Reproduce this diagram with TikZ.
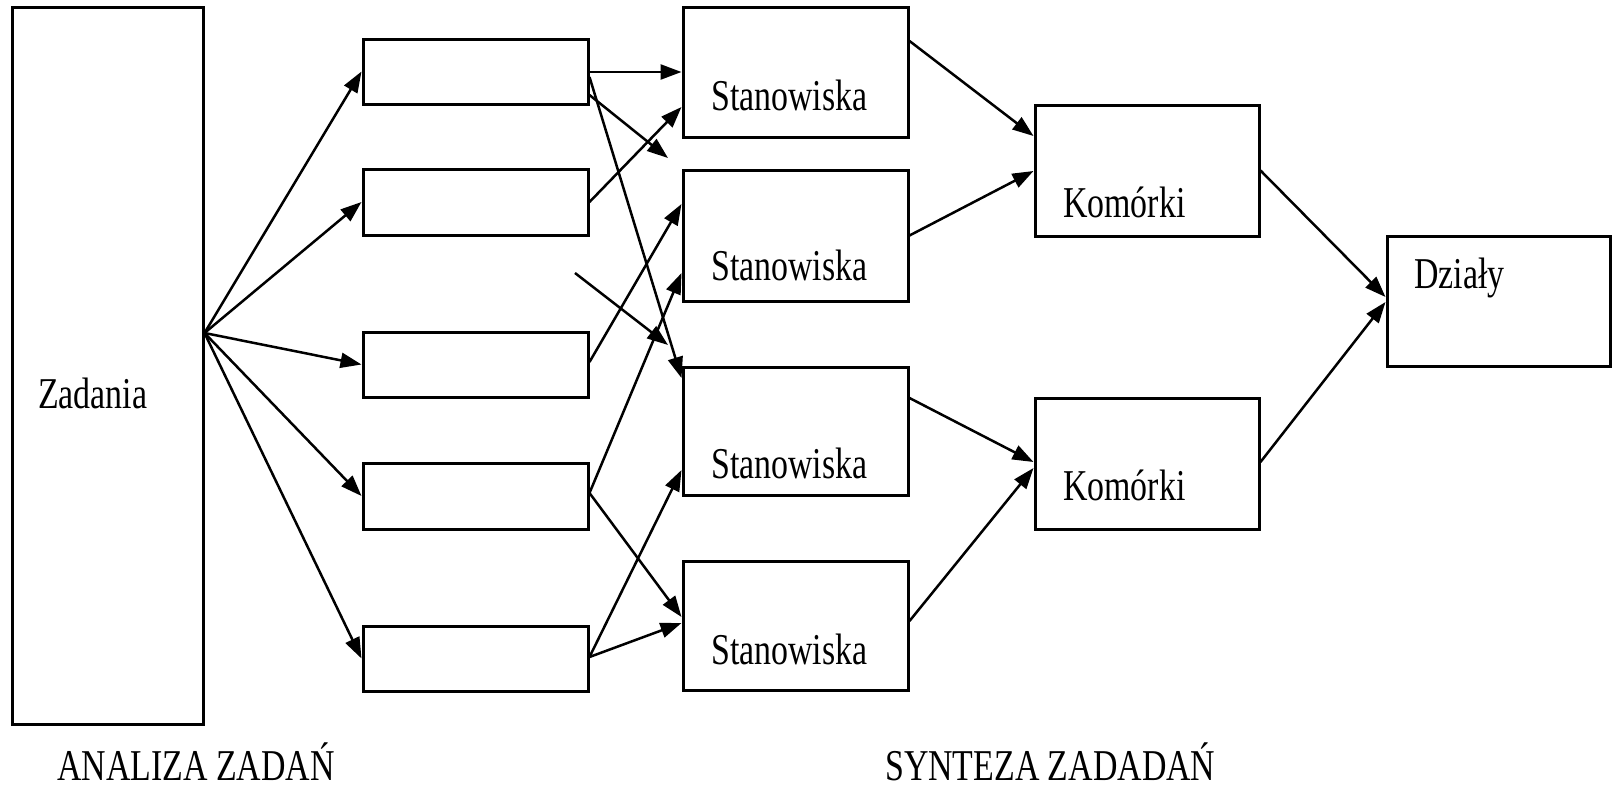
\documentclass[tikz,border=0pt]{standalone}
\usepackage{fontspec}
\setmainfont{Liberation Serif}[FakeStretch=0.77]
\usetikzlibrary{arrows.meta}

\begin{document}
\begin{tikzpicture}[x=1pt, y=-1pt,
        box/.style={draw, line width=3pt, inner sep=0pt},
        txt/.style={font=\fontsize{44}{48}\selectfont, inner sep=0pt, anchor=base west},
        arr/.style={-{Triangle[length=21pt,width=15pt]}, line width=2.5pt}]
        \useasboundingbox (0,0) rectangle (1612,790);

        % ramki
        \node[box, minimum width=191pt, minimum height=717pt] (zad) at (107.5,365.5) {};
        \node[box, minimum width=225pt, minimum height=65pt] (b1) at (475.5,71.5) {};
        \node[box, minimum width=225pt, minimum height=66pt] (b2) at (475.5,202) {};
        \node[box, minimum width=225pt, minimum height=65pt] (b3) at (475.5,364.5) {};
        \node[box, minimum width=225pt, minimum height=66pt] (b4) at (475.5,496) {};
        \node[box, minimum width=225pt, minimum height=65pt] (b5) at (475.5,658.5) {};
        \node[box, minimum width=225pt, minimum height=130pt] (s1) at (795.5,72) {};
        \node[box, minimum width=225pt, minimum height=131pt] (s2) at (795.5,235.5) {};
        \node[box, minimum width=225pt, minimum height=128pt] (s3) at (795.5,431) {};
        \node[box, minimum width=225pt, minimum height=129pt] (s4) at (795.5,625.5) {};
        \node[box, minimum width=224pt, minimum height=131pt] (k1) at (1147,170.5) {};
        \node[box, minimum width=224pt, minimum height=131pt] (k2) at (1147,463.5) {};
        \node[box, minimum width=223pt, minimum height=130pt] (dz) at (1498.5,301) {};

        % napisy
        \node[txt] (zadT) at (38,408) {Zadania};
        \node[txt] (s1T) at (711,110) {Stanowiska};
        \node[txt] (s2T) at (711,280) {Stanowiska};
        \node[txt] (s3T) at (711,478) {Stanowiska};
        \node[txt] (s4T) at (711,664) {Stanowiska};
        \node[txt] (k1T) at (1063,217) {Komórki};
        \node[txt] (k2T) at (1063,500) {Komórki};
        \node[txt] (dzT) at (1414,288) {Działy};
        \node[txt] (anT) at (57,780) {ANALIZA ZADAŃ};
        \node[txt] (synT) at (885,780) {SYNTEZA ZADADAŃ};

        % wolne konce
        \coordinate (fan) at (zad.east |- 0,333);
        \coordinate (g1) at (668,158);
        \coordinate (f1) at (575,273);
        \coordinate (f2) at (668,345);

        % analiza
        \draw[arr] (fan) -- (b1.west);
        \draw[arr] (fan) -- (b2.west);
        \draw[arr] (fan) -- (b3.west);
        \draw[arr] (fan) -- (b4.west);
        \draw[arr] (fan) -- (b5.west);

        % synteza
        \draw[arr] (b1.east |- 0,72) -- (s1.west |- 0,72);
        \draw[arr] (b1.east |- 0,95) -- (g1);
        \draw[arr] (b1.east |- 0,77) -- (s3.west |- 0,378);
        \draw[arr] (b2.east) -- (s1.west |- 0,107);
        \draw[arr] (f1) -- (f2);
        \draw[arr] (b3.east |- 0,362) -- (s2.west |- 0,204);
        \draw[arr] (b4.east |- 0,493) -- (s2.west |- 0,273);
        \draw[arr] (b4.east |- 0,493) -- (s4.west |- 0,617);
        \draw[arr] (b5.east |- 0,657) -- (s3.west |- 0,470);
        \draw[arr] (b5.east |- 0,657) -- (s4.west |- 0,623);

        \draw[arr] (s1.east |- 0,41) -- (k1.west |- 0,136);
        \draw[arr] (s2.east) -- (k1.west |- 0,171);
        \draw[arr] (s3.east |- 0,398) -- (k2.west |- 0,462);
        \draw[arr] (s4.east |- 0,621) -- (k2.west |- 0,468);
        \draw[arr] (k1.east) -- (dz.west |- 0,297);
        \draw[arr] (k2.east |- 0,462) -- (dz.west |- 0,302);
\end{tikzpicture}
\end{document}
